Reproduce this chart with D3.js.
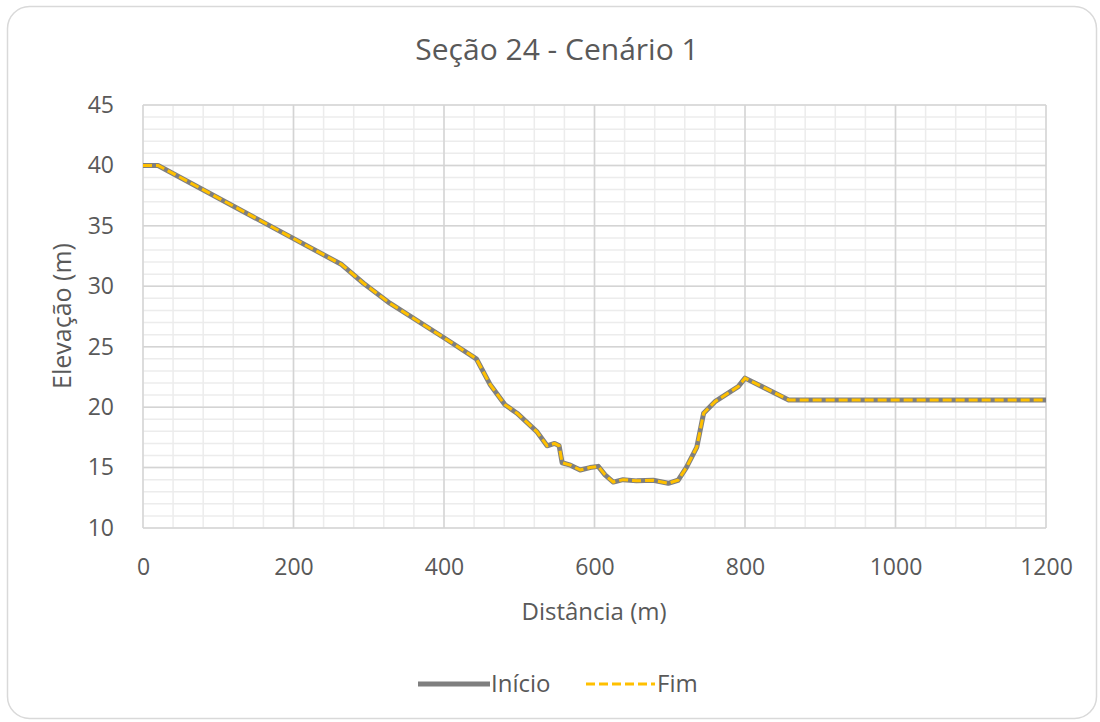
<!DOCTYPE html>
<html><head><meta charset="utf-8">
<script src="https://cdn.jsdelivr.net/npm/d3@7"></script>
<style>body{margin:0;background:#fff}text{font-family:"Open Sans",sans-serif;fill:#595959}</style>
</head><body><svg id="c" width="1100" height="722"></svg>
<script>
const title = "Seção 24 - Cenário 1";
const xLabel = "Distância (m)";
const yLabel = "Elevação (m)";
const seriesNames = ["Início", "Fim"];
const distance = [0,20,264,293,328,401,443,461,481,497,523,537,547,553,557,568,581,594,605,614,625,638,656,678,698,711,722,736,745,760,791,800,858,1200];
const elevInicio = [40,40,31.8,30.25,28.6,25.7,24.0,21.9,20.2,19.5,18.0,16.8,17.0,16.8,15.4,15.2,14.8,15.0,15.1,14.4,13.8,14.0,13.9,13.95,13.7,13.95,15.0,16.7,19.5,20.45,21.7,22.4,20.6,20.6];
const elevFim = [40,40,31.8,30.25,28.6,25.7,24.0,21.9,20.2,19.5,18.0,16.8,17.0,16.8,15.4,15.2,14.8,15.0,15.1,14.4,13.8,14.0,13.9,13.95,13.7,13.95,15.0,16.7,19.5,20.45,21.7,22.4,20.6,20.6];
const xTicks = [0,200,400,600,800,1000,1200];
const yTicks = [10,15,20,25,30,35,40,45];

const svg = d3.select("#c");
svg.append("rect").attr("x",7.5).attr("y",6.5).attr("width",1089).attr("height",712)
  .attr("rx",22).attr("fill","#fff").attr("stroke","#d9d9d9").attr("stroke-width",1.5);

const x = d3.scaleLinear().domain([0,1200]).range([143,1046]);
const y = d3.scaleLinear().domain([10,45]).range([528,105]);

const g = svg.append("g");
g.selectAll(".mx").data(d3.range(0,1201,40)).enter().append("line")
  .attr("x1",d=>x(d)).attr("x2",d=>x(d)).attr("y1",y(10)).attr("y2",y(45))
  .attr("stroke","#ececec").attr("stroke-width",1.5);
g.selectAll(".my").data(d3.range(10,46,1)).enter().append("line")
  .attr("y1",d=>y(d)).attr("y2",d=>y(d)).attr("x1",x(0)).attr("x2",x(1200))
  .attr("stroke","#ececec").attr("stroke-width",1.5);
g.selectAll(".Mx").data(xTicks).enter().append("line")
  .attr("x1",d=>x(d)).attr("x2",d=>x(d)).attr("y1",y(10)).attr("y2",y(45))
  .attr("stroke","#d4d4d4").attr("stroke-width",1.5);
g.selectAll(".My").data(yTicks).enter().append("line")
  .attr("y1",d=>y(d)).attr("y2",d=>y(d)).attr("x1",x(0)).attr("x2",x(1200))
  .attr("stroke","#d4d4d4").attr("stroke-width",1.5);

const xa = svg.append("g").attr("transform",`translate(0,${y(10)})`)
  .call(d3.axisBottom(x).tickValues(xTicks).tickFormat(d3.format("d")).tickSize(0).tickPadding(26));
const ya = svg.append("g").attr("transform",`translate(${x(0)},0)`)
  .call(d3.axisLeft(y).tickValues(yTicks).tickFormat(d3.format("d")).tickSize(0).tickPadding(29));
[xa,ya].forEach(a=>{a.select(".domain").remove();a.selectAll("text").attr("font-size",23).attr("fill","#595959").attr("font-family","Open Sans");});
xa.selectAll("text").attr("dy","0.9em");

const line = d3.line().x((d,i)=>x(distance[i])).y(d=>y(d));
svg.append("path").datum(elevInicio).attr("d",line).attr("fill","none")
  .attr("stroke","#7f7f7f").attr("stroke-width",5).attr("stroke-linejoin","round");
svg.append("path").datum(elevFim).attr("d",line).attr("fill","none")
  .attr("stroke","#ffc000").attr("stroke-width",3).attr("stroke-dasharray","9,4");

svg.append("text").attr("x",557).attr("y",60).attr("text-anchor","middle").attr("font-size",30).text(title);
svg.append("text").attr("x",594).attr("y",620).attr("text-anchor","middle").attr("font-size",24).text(xLabel);
svg.append("text").attr("transform","translate(71,316) rotate(-90)").attr("text-anchor","middle").attr("font-size",25).text(yLabel);

const leg = svg.append("g");
leg.append("line").attr("x1",418).attr("x2",490).attr("y1",684).attr("y2",684).attr("stroke","#7f7f7f").attr("stroke-width",5);
leg.append("text").attr("x",491).attr("y",692).attr("font-size",24).text(seriesNames[0]);
leg.append("line").attr("x1",586).attr("x2",655).attr("y1",684).attr("y2",684).attr("stroke","#ffc000").attr("stroke-width",3).attr("stroke-dasharray","9,4");
leg.append("text").attr("x",657).attr("y",692).attr("font-size",24).text(seriesNames[1]);
</script></body></html>
